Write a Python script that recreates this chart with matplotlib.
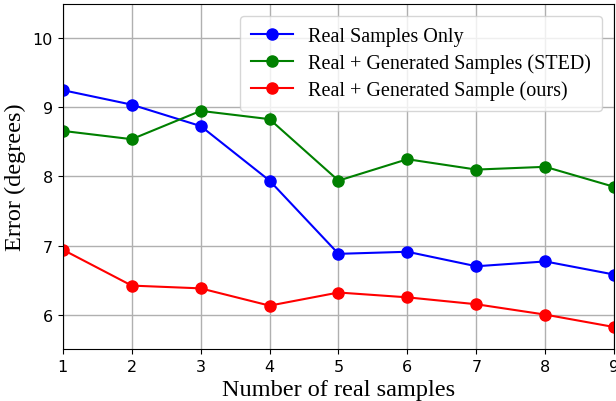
import matplotlib
matplotlib.use("Agg")
import matplotlib.pyplot as plt

# Error vs number of real samples
n_samples = [1, 2, 3, 4, 5, 6, 7, 8, 9]
real_only = [9.25, 9.04, 8.73, 7.94, 6.88, 6.91, 6.70, 6.77, 6.58]
real_sted = [8.66, 8.54, 8.95, 8.83, 7.94, 8.25, 8.10, 8.14, 7.85]
real_ours = [6.94, 6.42, 6.38, 6.13, 6.32, 6.25, 6.15, 6.00, 5.82]
labels = ['Real Samples Only', 'Real + Generated Samples (STED)',
          'Real + Generated Sample (ours)']

serif = ['Liberation Serif', 'DejaVu Serif']

fig = plt.figure(figsize=(6.16, 4.02), dpi=100)
ax = fig.add_axes([0.102, 0.129, 0.895, 0.859])

ax.plot(n_samples, real_only, 'o-', color='blue', lw=1.5, ms=8, label=labels[0])
ax.plot(n_samples, real_sted, 'o-', color='green', lw=1.5, ms=8, label=labels[1])
ax.plot(n_samples, real_ours, 'o-', color='red', lw=1.5, ms=8, label=labels[2])

ax.set_xlim(1, 9)
ax.set_ylim(5.5, 10.5)
ax.set_xticks(n_samples)
ax.set_yticks([6, 7, 8, 9, 10])
ax.tick_params(axis='both', labelsize=11.5)
ax.grid(True, color='#b0b0b0', lw=1)

ax.set_xlabel('Number of real samples', fontsize=17.5, family=serif, labelpad=3.5)
ax.set_ylabel('Error (degrees)', fontsize=17.5, family=serif, labelpad=5)
ax.legend(loc='upper right', prop={'family': serif, 'size': 14.5},
          handlelength=2.1, handletextpad=0.75, borderaxespad=0.6,
          borderpad=0.55, labelspacing=0.35)

fig.savefig('out.png', dpi=100)
